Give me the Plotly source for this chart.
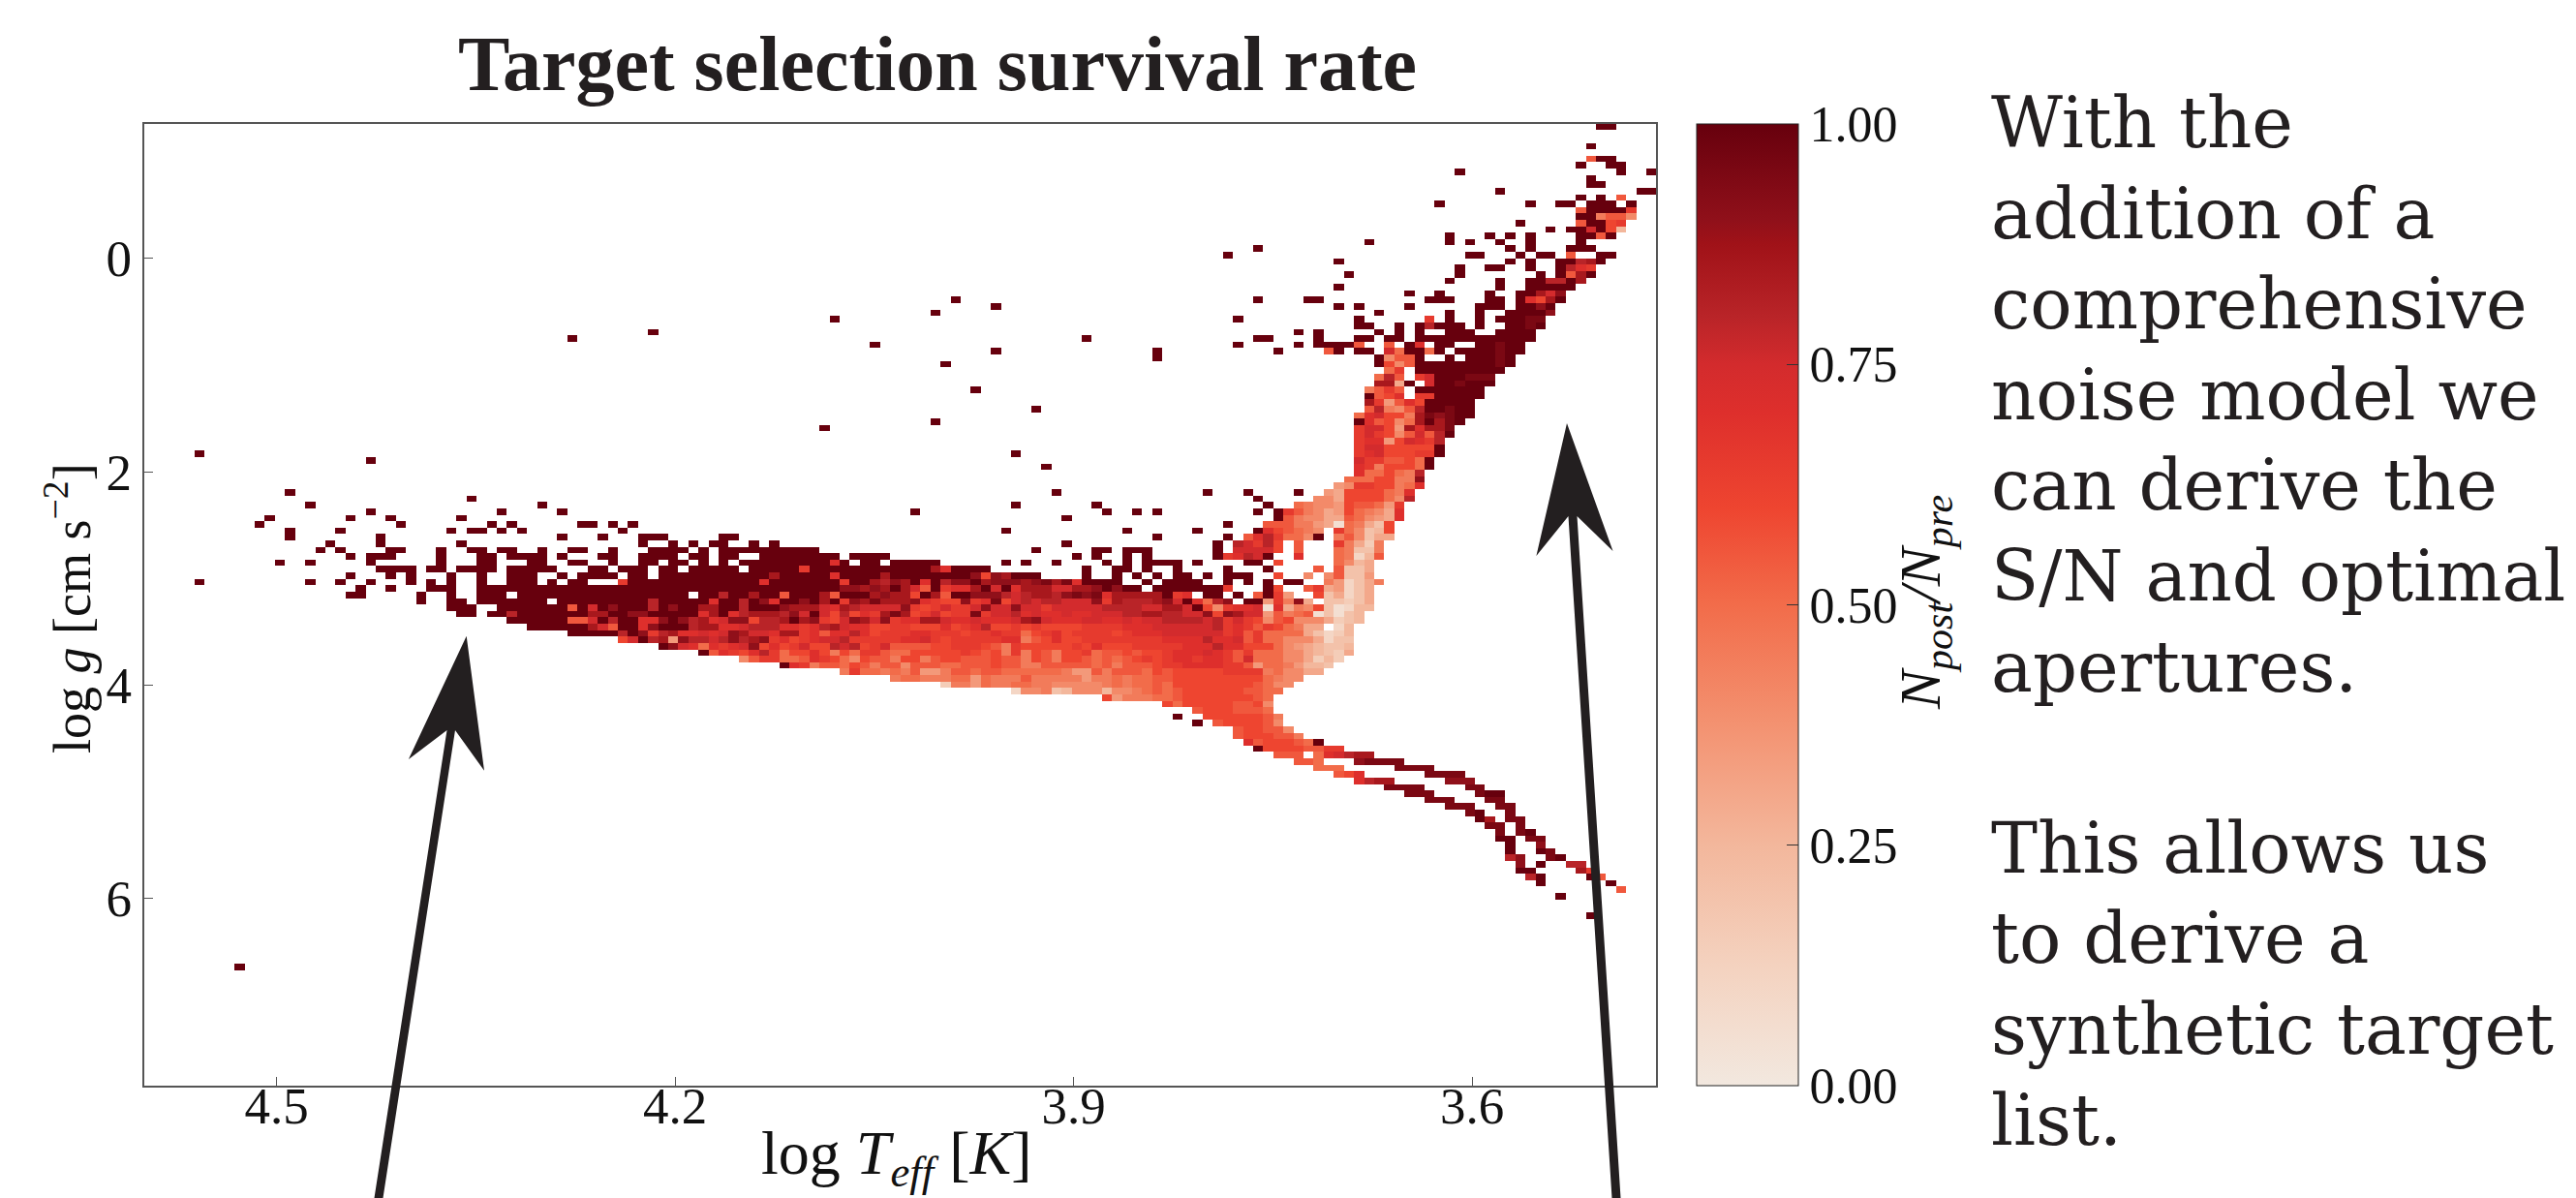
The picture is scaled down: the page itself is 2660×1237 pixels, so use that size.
import plotly.graph_objects as go

W, H = 2660, 1237
TICK_X = [4.5, 4.2, 3.9, 3.6]
TICK_Y = [0, 2, 4, 6]
TICK_CB = [0, 0.25, 0.5, 0.75, 1.0]
X_LEFT, X_RIGHT = 4.6, 3.4615
Y_TOP, Y_BOTTOM = -1.264, 7.757
NBINS = 150
# one letter per cell: A=0.00, B=0.05 ... U=1.00
LEVELS = "ABCDEFGHIJKLMNOPQRSTU"

giant_rows = [
(0,144,"UU"),(3,143,"U"),(5,143,"LUU"),(6,142,"U"),(6,145,"UU"),(7,130,"U"),(7,146,"U"),(7,149,"U"),
(8,143,"U"),(9,143,"UU"),(10,134,"U"),(10,148,"UU"),(11,142,"U"),(11,144,"U"),(11,146,"L"),
(12,128,"U"),(12,137,"U"),(12,140,"UU"),(12,143,"UUU"),(12,147,"U"),(13,142,"LUUUUN"),(14,142,"UUJLLI"),
(15,136,"U"),(15,142,"LUUMN"),(16,139,"U"),(16,141,"UUPUMF"),
(17,129,"U"),(17,133,"U"),(17,135,"U"),(17,137,"U"),(17,142,"UULU"),
(18,121,"U"),(18,129,"U"),(18,131,"U"),(18,134,"U"),(18,137,"U"),(18,142,"U"),
(19,110,"U"),(19,135,"U"),(19,137,"U"),(19,141,"UUU"),
(20,107,"U"),(20,131,"UU"),(20,136,"U"),(20,138,"UU"),(20,141,"L"),(20,144,"UU"),
(21,118,"U"),(21,135,"U"),(21,137,"U"),(21,140,"UUQRU"),
(22,130,"U"),(22,133,"UU"),(22,137,"U"),(22,140,"UQON"),
(23,119,"U"),(23,130,"U"),(23,138,"U"),(23,140,"ULRU"),
(24,129,"U"),(24,134,"U"),(24,137,"UUQQUR"),(25,118,"U"),(25,134,"U"),(25,137,"UUUUU"),
(26,125,"U"),(26,128,"U"),(26,133,"U"),(26,136,"UURPS"),
(27,80,"U"),(27,110,"U"),(27,115,"UU"),(27,127,"UUU"),(27,133,"UU"),(27,136,"UOMRU"),
(28,84,"U"),(28,118,"U"),(28,120,"U"),(28,125,"U"),(28,132,"UUU"),(28,136,"UUSU"),
(29,78,"U"),(29,122,"U"),(29,129,"U"),(29,132,"U"),(29,135,"UUUUS"),
(30,68,"U"),(30,108,"U"),(30,120,"U"),(30,127,"N"),(30,129,"U"),(30,132,"U"),(30,134,"UUUTT"),
(31,120,"UU"),(31,124,"U"),(31,126,"UQUUU"),(31,132,"U"),(31,135,"UUTU"),
(32,50,"U"),(32,114,"U"),(32,116,"U"),(32,122,"U"),(32,124,"U"),(32,126,"U"),(32,129,"UUU"),(32,134,"UUUU"),
(33,42,"U"),(33,93,"U"),(33,110,"UU"),(33,116,"U"),(33,120,"UU"),(33,123,"UU"),(33,126,"U"*12),
(34,72,"U"),(34,108,"U"),(34,114,"U"),(34,116,"UUUU"),(34,120,"L"),(34,123,"L"),(34,125,"UO"),(34,128,"UU"),(34,132,"UUTUU"),
(35,84,"U"),(35,100,"U"),(35,112,"U"),(35,117,"LU"),(35,120,"UU"),(35,123,"PK"),(35,125,"UUK"),(35,128,"U"),(35,130,"UUUUTUU"),
(36,100,"U"),(36,122,"UILLU"),(36,129,"U"),(36,131,"UUUTU"),
(37,79,"U"),(37,122,"UMIL"+"U"*8+"TU"),(38,123,"KN"),(38,126,"U"*9),
(39,122,"KQL"),(39,126,"NP"),(39,128,"UUUTTT"),(40,122,"RRGU"),(40,127,"PUUTUUU"),
(41,82,"U"),(41,121,"JLNL"),(41,126,"U"*7),(42,121,"ULMO"),(42,126,"NNUUUUU"),
(43,121,"RNHLOMUUUUU"),(44,88,"U"),(44,121,"LQJILQUUTUU"),(45,120,"KOPMMJRTSTUU"),
(46,78,"U"),(46,120,"UOLMIKRURTU"),(47,67,"U"),(47,120,"NPPMHRORRT"),(48,120,"NPNMILPLQU"),
(49,120,"NOOHMPONQ"),(50,120,"NPPMMMMMU"),(51,5,"U"),(51,86,"U"),(51,120,"NOPMMMNNU"),
(52,22,"U"),(52,120,"PNNLLMKU"),(53,89,"U"),(53,120,"ONJMMMKU"),(54,120,"OKKMKJQ"),
(55,119,"KKKMMJJS"),(56,118,"HINNMMJKO"),
(57,14,"U"),(57,90,"U"),(57,105,"U"),(57,109,"U"),(57,114,"U"),(57,117,"HGMMMMKJO"),
(58,32,"U"),(58,110,"U"),(58,116,"IIGMMMMKIQ"),
]

turnoff_rows = [
(59,16,"U"),(59,39,"U"),(59,86,"U"),(59,94,"U"),(59,111,"U"),(59,114,"KJIIHMLLKHN"),
(60,22,"U"),(60,35,"U"),(60,41,"U"),(60,76,"U"),(60,95,"U"),(60,98,"U"),(60,100,"U"),(60,110,"U"),(60,112,"UNLJIGHMKJIGO"),
(61,12,"U"),(61,20,"U"),(61,24,"U"),(61,31,"U"),(61,91,"U"),(61,112,"ULJIIGGLKIHGO"),
(62,11,"U"),(62,25,"U"),(62,34,"U"),(62,36,"U"),(62,43,"UU"),(62,46,"U"),(62,48,"U"),(62,107,"U"),(62,111,"LLLJJHGBKJGEM"),
(63,14,"U"),(63,19,"U"),(63,30,"U"),(63,32,"UU"),(63,35,"U"),(63,37,"U"),(63,47,"U"),(63,85,"U"),(63,97,"U"),(63,104,"U"),(63,110,"UOMLKJI"),(63,118,"NKIEFM"),
(64,14,"U"),(64,23,"U"),(64,41,"U"),(64,45,"U"),(64,49,"UUU"),(64,57,"UU"),(64,100,"U"),(64,107,"U"),(64,109,"LOQNKKI"),(64,116,"U"),(64,118,"JLIEGG"),
(65,18,"U"),(65,23,"U"),(65,31,"U"),(65,49,"U"),(65,52,"U"),(65,54,"U"),(65,56,"UU"),(65,60,"U"),(65,62,"U"),(65,91,"U"),(65,106,"U"),(65,108,"QPNQM"),(65,114,"L"),(65,118,"NJGDJ"),
(66,17,"U"),(66,19,"U"),(66,24,"UU"),(66,29,"U"),(66,32,"UU"),(66,35,"UU"),(66,39,"U"),(66,42,"UU"),(66,46,"U"),(66,50,"UUUU"),(66,55,"U"),(66,57,"U"*10),(66,88,"U"),(66,94,"UU"),(66,97,"UUU"),(66,106,"U"),(66,108,"PPPPM"),(66,114,"L"),(66,118,"KJEEJ"),
(67,20,"U"),(67,22,"UUU"),(67,29,"U"),(67,33,"UU"),(67,36,"UUUU"),(67,41,"U"),(67,45,"UU"),(67,49,"UUUU"),(67,54,"UU"),(67,57,"UU"),(67,61,"U"*8),(67,70,"UUUU"),(67,92,"U"),(67,94,"U"),(67,97,"U"),(67,99,"U"),(67,106,"UNOQPU"),(67,114,"O"),(67,118,"KJCFL"),
(68,13,"U"),(68,16,"U"),(68,22,"U"),(68,29,"U"),(68,33,"UU"),(68,38,"UU"),(68,42,"UU"),(68,46,"U"),(68,49,"UU"),(68,52,"UU"),(68,55,"U"),(68,57,"U"),(68,59,"U"*9+"OU"),(68,71,"UU"),(68,74,"U"*5),(68,85,"U"),(68,87,"U"),(68,90,"U"),(68,95,"U"),(68,97,"U"),(68,99,"UUUU"),(68,104,"U"),(68,109,"UU"),(68,112,"M"),(68,118,"KIFG"),
(69,23,"UUUU"),(69,28,"UU"),(69,31,"UUUU"),(69,36,"UUUUU"),(69,44,"UU"),(69,47,"UUU"),(69,51,"UU"),(69,54,"UUUUU"),(69,60,"U"*5+"N"+"U"*12+"RO"+"U"*4),(69,93,"U"),(69,96,"UU"),(69,99,"U"),(69,102,"U"),(69,107,"U"),(69,111,"U"),(69,116,"L"),(69,118,"LEEG"),
(70,20,"U"),(70,24,"U"),(70,26,"U"),(70,30,"U"),(70,33,"U"),(70,36,"UUU"),(70,41,"U"),(70,43,"UUUU"),(70,48,"UU"),(70,51,"U"*11+"R"+"U"*5+"O"+"U"*4+"R"+"U"*8+"SMSR"+"UUU"),(70,93,"U"),(70,96,"U"),(70,98,"U"),(70,100,"U"),(70,102,"UU"),(70,105,"U"),(70,107,"UUU"),(70,112,"M"),(70,115,"I"),(70,117,"ILEEH"),
(71,5,"U"),(71,16,"U"),(71,19,"U"),(71,22,"U"),(71,26,"U"),(71,28,"U"),(71,30,"U"),(71,33,"U"),(71,36,"UUU"),(71,40,"U"),(71,42,"UU"),(71,47,"N"+"U"*13+"O"+"U"*7+"NUU"+"RQSRUOUQSSURSSSRSTRTO"+"UUUU"),(71,99,"U"),(71,101,"UUUU"),(71,107,"U"),(71,109,"U"),(71,111,"U"),(71,113,"UU"),(71,117,"JHCEGJ"),
(72,21,"U"),(72,24,"U"),(72,28,"UUU"),(72,33,"U"*36+"SSR"+"SRURPLUNOORUPUORRRPPRRSUSUU"),(72,100,"U"*7+"N"),(72,111,"UM"),(72,115,"LNGHCEG"),
(73,20,"UU"),(73,27,"U"),(73,30,"U"),(73,33,"UUU"),(73,37,"U"*17),(73,55,"UUQUURUUL"+"UUURLUUU"+"RSRRMURLUUSSSQPQRRQSTSTORRRRR"+"UNO"),(73,105,"UU"),(73,108,"U"),(73,110,"LUNH"),(73,116,"MEGCEG"),
(74,27,"U"),(74,30,"UU"),(74,33,"U"*7),(74,41,"U"*6),(74,47,"UUUQUUUUUOUUQUSOUUSURUNSR"+"TRRRSONMMSNOTMPQPQQPPPSNRQQQR"+"SPUOKQS"),(74,109,"UU"),(74,111,"HNJSG"),(74,117,"EEDEG"),
(75,30,"UUU"),(75,35,"U"*7+"LUPUS"),(75,47,"UUUQUSUURRUUQUUUSRRRPORQP"+"PPPSNMNPNNPSPPSPPNPPPPPQQQQPP"+"RRPUMINOOPBOGJIMEBCFF"),
(76,31,"UU"),(76,34,"UUQ"+"U"*7+"RRU"),(76,47,"USSUUUUUORUOQRRRQSPUPMQMO"+"NRTRMNPMNNTNPPQOPOOPOOPPPQQRR"+"QQPPSMSRPPHLJKLBEBEF"),
(77,36,"UU"+"U"*4+"LLPUQ"),(77,47,"UUOOSUSQROPSSMQQRURSNMPSR"+"PSNOORRPOOPOOOPRSPOOOPPOOPOPP"+"QQQQPQNPNMILMIIIGDEF"),
(78,38,"U"*6+"RPL"),(78,47,"UUOSUUUQRROOPQQQOONOQRPOO"+"MMNNMMMOMNOQMMNMNMMMMNNNNOOOP"+"PPPPPQNONLNMKJGG"),(78,118,"CF"),
(79,42,"U"*5),(79,47,"QUSNQROOPOPSRPPORRNOLOOQO"+"MNNNOONNNMNNONNKMNOMNNNNMNOOO"+"PPPPPPNOLNKKKKGECDF"),
(80,47,"MPUQRHSQQPQSQRSNOMNOPPQNN"+"NNNOOPNMNNNNNOOJLMOMMNNNNNNNN"+"OOOOQOOPLNKKIIIGCEE"),
(81,51,"USPOKONOPSMOMNPMMQPQM"+"NPLLLLMMNNNMLJNMMMMMNMOMMMNNN"+"NNOOOQOOMMMKIHGFEEF"),
(82,55,"ULONMOQNKMMOMJMKN"+"NLKKMMMMMNMLMJNJMLJMMNKLLMLMM"+"NOOOPONLNKKKIIGFEDG"),
(83,59,"ILNNKKLONMKIM"+"LLJMMJLMMLLLMLLJMLJMMLKLKLMNM"+"NOONOONLPKKKIIGDFD"),
(84,63,"UONJLLKML"+"JLLILLLKKLLLMLLJJLLLLLKLJLLLM"+"NNOOOONNLHKKJHFFE"),
(85,69,"JNK"+"KJKJLHHJLLKLLKKKKKKJHHLJLLLKM"+"LMMMMMNNNNJKIIGG"),
(86,74,"JKKJJJKKHKJJJLJJJJJHJJKJKKL"+"LMMMMMMMMMKJII"),
(87,79,"DJJHKJJKKJJIIIIIJKJKKL"+"KMMMMMMMMLKII"),
(88,86,"CIIJEFIIIFIIJKL"+"KLMMMMMMLLKK"),
(89,95,"MHJJJK"+"KLMMMMMMMLK"),
]

dwarf_rows = [
(90,101,"MKMMMMMLLMI"),(91,104,"LMMMLLLK"),(92,102,"U"),(92,105,"MMMMMMLJ"),(93,104,"U"),(93,106,"LMMMMLI"),
(94,108,"LMMLLI"),(95,108,"LMMMLLJ"),(96,109,"OLMMMLK"),(96,116,"U"),(97,110,"UMMMMLLNN"),
(98,112,"LLL"),(98,116,"KOPQRR"),(99,114,"LL"),(99,116,"K"),(99,120,"STTTT"),
(100,116,"KKK"),(100,124,"TTTT"),(101,118,"LMO"),(101,127,"TTTT"),(102,120,"OQRR"),(102,129,"SSS"),
(103,123,"TTTT"),(103,131,"TT"),(104,125,"TTT"),(104,132,"TUU"),(105,127,"TTT"),(105,133,"TT"),
(106,129,"TTT"),(106,134,"TT"),(107,131,"TU"),(107,135,"T"),(108,132,"UR"),(108,135,"TT"),
(109,133,"TT"),(109,136,"T"),(110,134,"T"),(110,136,"TU"),(111,134,"UU"),(111,137,"TT"),
(112,135,"U"),(112,138,"S"),(113,135,"U"),(113,138,"UT"),(114,135,"QS"),(114,139,"TU"),
(115,136,"S"),(115,138,"U"),(115,141,"QQ"),(116,136,"UU"),(116,142,"RN"),(117,137,"QU"),(117,143,"UL"),
(118,138,"U"),(118,145,"U"),(119,146,"L"),(120,140,"U"),(123,143,"U"),(131,9,"U"),
]

dx = (X_LEFT - X_RIGHT) / NBINS
dy = (Y_BOTTOM - Y_TOP) / NBINS
x_centers = [X_LEFT - dx * (i + 0.5) for i in range(NBINS)]
y_centers = [Y_TOP + dy * (i + 0.5) for i in range(NBINS)]
z = [[None] * NBINS for _ in range(NBINS)]
for r, c, codes in giant_rows + turnoff_rows + dwarf_rows:
    for k, ch in enumerate(codes):
        if c + k < NBINS:
            z[r][c + k] = LEVELS.index(ch) * 0.05

colorscale = [
    [0.0, "#f2e8df"], [0.125, "#f4d2bf"], [0.25, "#f3b79c"], [0.375, "#f39271"],
    [0.5, "#f26c4a"], [0.6, "#ee4530"], [0.7, "#de2f2c"], [0.75, "#d32b2d"],
    [0.8, "#b92428"], [0.875, "#a01218"], [0.9, "#90101a"], [1.0, "#67000d"],
]

INK = "#231f20"
fig = go.Figure(go.Heatmap(
    x=x_centers, y=y_centers, z=z, zmin=0, zmax=1, colorscale=colorscale,
    hoverongaps=False,
    colorbar=dict(
        x=1752 / W, xanchor="left", xref="paper", thickness=105, thicknessmode="pixels",
        y=1 - 1121 / H, yanchor="bottom", yref="paper", len=(1121 - 127.6) / H, lenmode="fraction",
        outlinecolor="#222", outlinewidth=1, xpad=0, ypad=0,
        tickmode="array", tickvals=TICK_CB, ticktext=["0.00", "0.25", "0.50", "0.75", "1.00"],
        ticks="inside", ticklen=12, tickcolor="#333", tickwidth=1,
        tickfont=dict(family="Liberation Serif", size=52, color="#111"),
    ),
))


def arrow(points):
    path = "M " + " L ".join(f"{px / W:.5f},{1 - py / H:.5f}" for px, py in points) + " Z"
    return dict(type="path", xref="paper", yref="paper", path=path,
                fillcolor=INK, line=dict(color=INK, width=0), layer="above")


fig.update_layout(
    width=W, height=H, autosize=False, paper_bgcolor="white", plot_bgcolor="white",
    margin=dict(l=0, r=0, t=0, b=0),
    title=dict(text="<b>Target selection survival rate</b>", x=968 / W, xanchor="center",
               y=1 - 65 / H, yanchor="middle",
               font=dict(family="Liberation Serif", size=80, color=INK)),
    xaxis=dict(domain=[148.5 / W, 1710 / W], range=[X_LEFT, X_RIGHT], tickvals=TICK_X,
               ticktext=[str(v) for v in TICK_X], ticks="inside", ticklen=9, tickcolor="#555",
               tickwidth=1, showline=True, mirror=True, linecolor="#555", linewidth=2,
               showgrid=False, zeroline=False, ticklabelstandoff=-27,
               tickfont=dict(family="Liberation Serif", size=53, color="#111")),
    yaxis=dict(domain=[1 - 1121 / H, 1 - 127.7 / H], range=[Y_BOTTOM, Y_TOP], tickvals=TICK_Y,
               ticktext=[str(v) for v in TICK_Y], ticks="inside", ticklen=9, tickcolor="#555",
               tickwidth=1, showline=True, mirror=True, linecolor="#555", linewidth=2,
               showgrid=False, zeroline=False,
               tickfont=dict(family="Liberation Serif", size=53, color="#111")),
    shapes=[
        arrow([(481.7, 656.7), (500, 795.7), (470, 754), (395.5, 1237), (386.5, 1237), (461.5, 754), (421.9, 784)]),
        arrow([(1618, 437), (1665.5, 569), (1628.5, 533), (1673.5, 1237), (1664.5, 1237), (1619.5, 533), (1586.4, 574)]),
    ],
    annotations=[
        dict(text="log <i>T<sub>eff</sub></i> [<i>K</i>]", xref="paper", yref="paper",
             x=925 / W, y=1 - 1195 / H, xanchor="center", yanchor="middle", showarrow=False,
             font=dict(family="Liberation Serif", size=64, color="#111")),
        dict(text="log <i>g</i> [cm s<sup>−2</sup>]", xref="paper", yref="paper", textangle=-90,
             x=70 / W, y=1 - 628 / H, xanchor="center", yanchor="middle", showarrow=False,
             font=dict(family="Liberation Serif", size=54, color="#111")),
        dict(text="<i>N<sub>post</sub>/N<sub>pre</sub></i>", xref="paper", yref="paper", textangle=-90,
             x=1987 / W, y=1 - 622 / H, xanchor="center", yanchor="middle", showarrow=False,
             font=dict(family="Liberation Serif", size=60, color="#111")),
        dict(text="With the<br>addition of a<br>comprehensive<br>noise model we<br>can derive the<br>"
                  "S/N and optimal<br>apertures.<br><br>This allows us<br>to derive a<br>"
                  "synthetic target<br>list.",
             xref="paper", yref="paper", x=2054 / W, y=1 - 83 / H, xanchor="left", yanchor="top",
             align="left", showarrow=False,
             font=dict(family="DejaVu Serif", size=72, color=INK)),
    ],
)

fig.write_html("out.html", config={"displayModeBar": False},
               post_script="document.body.style.margin='0';")
